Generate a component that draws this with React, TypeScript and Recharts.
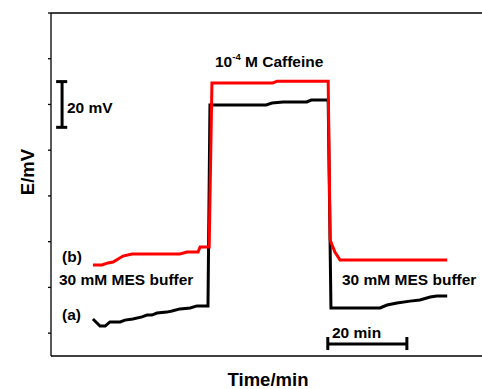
import React from "react";
import { LineChart, Line, XAxis, YAxis, ReferenceLine } from "recharts";

// potential traces, time in min, E in mV
const traceA_t = [10.6, 12.4, 13.7, 14.9, 17.5, 18.7, 20.7, 23.0, 24.3, 25.5, 26.8, 29.3, 30.6, 32.6, 35.2, 36.9, 39.7, 40.2, 54.4, 55.9, 58.7, 64.7, 65.8, 70.1, 70.8, 83.2, 85.0, 87.5, 90.8, 93.3, 95.9, 97.6, 100.2];
const traceA_e = [16.2, 13.1, 13.1, 14.9, 14.9, 15.7, 16.2, 17.1, 17.9, 17.9, 18.8, 19.2, 19.7, 20.6, 21.0, 21.9, 21.9, 109.8, 109.8, 110.6, 111.1, 111.1, 111.9, 111.9, 21.0, 21.0, 22.3, 23.2, 24.0, 24.5, 25.8, 26.2, 26.2];

const traceB_t = [10.6, 12.9, 14.4, 15.7, 18.2, 20.5, 32.6, 34.4, 37.2, 37.7, 40.0, 40.7, 56.1, 57.2, 70.1, 70.6, 71.8, 73.1, 100.2];
const traceB_e = [39.8, 39.8, 40.7, 41.1, 43.7, 44.6, 44.6, 45.5, 45.5, 47.7, 47.7, 119.4, 119.4, 120.2, 120.2, 50.7, 45.5, 42.0, 42.0];

const xTicks = [0, 10, 20, 30, 40, 50, 60, 70, 80, 90, 100];
const yTicks = [0, 10, 20, 30, 40, 50, 60, 70, 80, 90, 100, 110, 120, 130, 140, 150];

const dataA = traceA_t.map((t, i) => ({ t, e: traceA_e[i] }));
const dataB = traceB_t.map((t, i) => ({ t, e: traceB_e[i] }));

const FONT = "'Liberation Sans', Arial, sans-serif";
const AXIS = "#000";
const LABEL = 15.5;

function YTick(props: any) {
  const { x, y, payload } = props;
  const major = payload.value % 20 === 0;
  return (
    <line x1={x - (major ? 8 : 3)} x2={x} y1={y} y2={y} stroke={AXIS} strokeWidth={1.3} />
  );
}

export default function App() {
  return (
    <div style={{ position: "absolute", left: 0, top: 0, width: 482, height: 389, background: "#fff" }}>
      <LineChart width={482} height={389} margin={{ top: 13, right: 0, left: 0, bottom: 3 }}>
        <XAxis
          type="number"
          dataKey="t"
          domain={[0, 109]}
          ticks={xTicks}
          tick={false}
          tickSize={7}
          height={30}
          stroke={AXIS}
          strokeWidth={1.3}
          allowDuplicatedCategory={false}
        />
        <YAxis
          type="number"
          domain={[0, 150]}
          ticks={yTicks}
          width={51}
          tickLine={false}
          tickSize={0}
          tickMargin={0}
          tick={<YTick />}
          stroke={AXIS}
          strokeWidth={1.3}
        />
        <ReferenceLine y={150} stroke={AXIS} strokeWidth={1.3} />

        {/* 20 mV scale bar */}
        <ReferenceLine segment={[{ x: 2.8, y: 100 }, { x: 2.8, y: 120 }]} stroke="#000" strokeWidth={3} />
        <ReferenceLine segment={[{ x: 1.3, y: 120 }, { x: 4.1, y: 120 }]} stroke="#000" strokeWidth={3} />
        <ReferenceLine segment={[{ x: 1.3, y: 100 }, { x: 4.1, y: 100 }]} stroke="#000" strokeWidth={3} />

        {/* 20 min scale bar */}
        <ReferenceLine segment={[{ x: 70, y: 5.2 }, { x: 90, y: 5.2 }]} stroke="#000" strokeWidth={3} />
        <ReferenceLine segment={[{ x: 70, y: 2.6 }, { x: 70, y: 8.3 }]} stroke="#000" strokeWidth={3} />
        <ReferenceLine segment={[{ x: 90, y: 2.6 }, { x: 90, y: 8.3 }]} stroke="#000" strokeWidth={3} />

        <Line data={dataA} dataKey="e" type="linear" stroke="#000" strokeWidth={3} dot={false} isAnimationActive={false} />
        <Line data={dataB} dataKey="e" type="linear" stroke="#ff0000" strokeWidth={3} dot={false} isAnimationActive={false} />
      </LineChart>

      <svg
        width={482}
        height={389}
        style={{ position: "absolute", left: 0, top: 0, pointerEvents: "none" }}
        fontFamily={FONT}
        fontWeight="bold"
      >
        <text x={215} y={67} fontSize={LABEL}>
          10
          <tspan fontSize={9.5} dy={-7}>-4</tspan>
          <tspan dy={7}> M Caffeine</tspan>
        </text>
        <text x={67} y={113} fontSize={LABEL}>20 mV</text>
        <text x={62} y={262} fontSize={LABEL}>(b)</text>
        <text x={59} y={285} fontSize={LABEL}>30 mM MES buffer</text>
        <text x={62} y={320} fontSize={LABEL}>(a)</text>
        <text x={342} y={285} fontSize={LABEL}>30 mM MES buffer</text>
        <text x={332} y={338} fontSize={LABEL}>20 min</text>
        <text x={268} y={386} fontSize={18.5} textAnchor="middle">Time/min</text>
        <text x={34} y={172} fontSize={18.5} textAnchor="middle" transform="rotate(-90 34 172)">E/mV</text>
      </svg>
    </div>
  );
}
